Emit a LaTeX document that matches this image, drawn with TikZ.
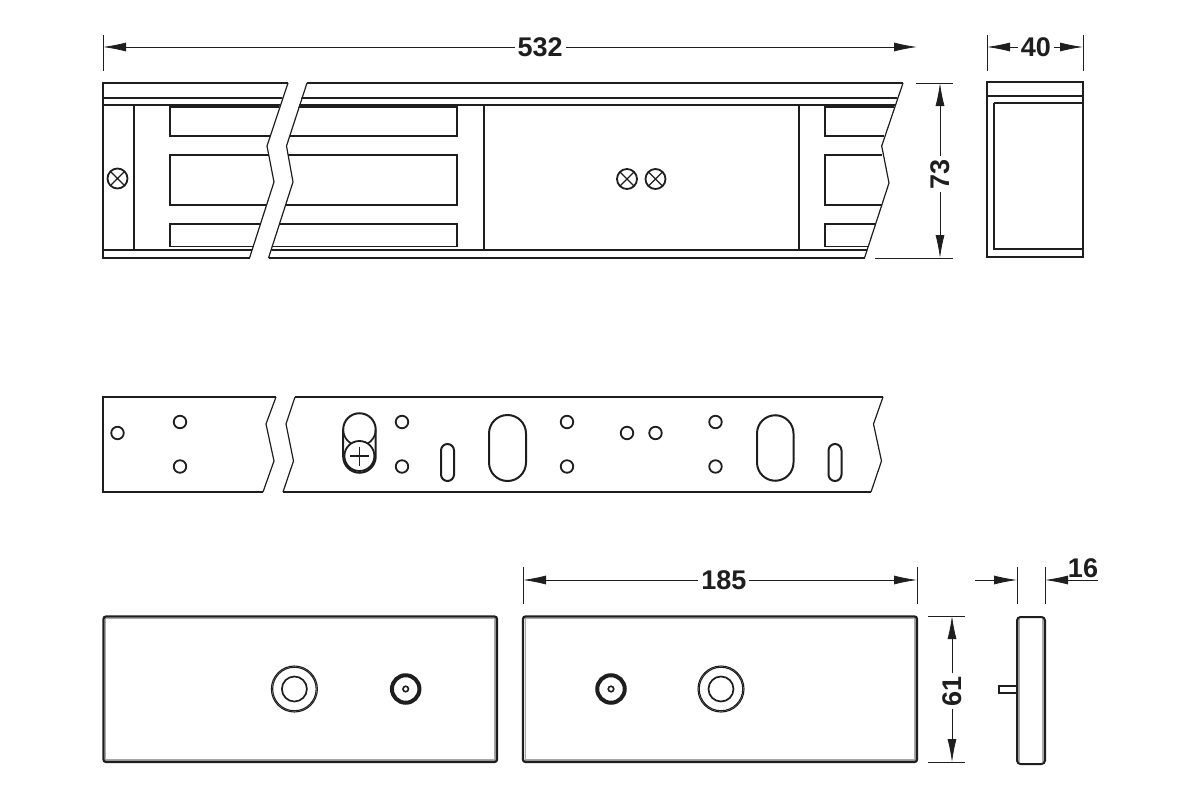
\documentclass[tikz,border=0pt]{standalone}
\usepackage{fontspec}
\setmainfont{Liberation Sans}
\usetikzlibrary{arrows.meta}
\definecolor{ink}{HTML}{1E1E1E}
\definecolor{edge}{HTML}{A8A8A8}
\tikzset{
  x=1pt,y=-1pt,
  ol/.style={draw=ink,line width=2pt,line join=miter},
  olf/.style={draw=ink,line width=1.7pt},
  cutl/.style={draw=ink,line width=1.2pt},
  dimline/.style={draw=ink,line width=0.8pt,{Latex[length=23pt,width=9pt]}-{Latex[length=23pt,width=9pt]}},
  oneway/.style={draw=ink,line width=0.8pt,-{Latex[length=23pt,width=9pt]}},
  ext/.style={draw=ink,line width=0.8pt},
  dimtext/.style={font=\bfseries\fontsize{27}{27}\selectfont,text=ink,inner sep=3pt,fill=white},
  hole/.style={circle,draw=ink,line width=1.8pt,minimum size=12.5pt,inner sep=0pt},
  xscrew/.style={circle,draw=ink,line width=1.8pt,minimum size=20pt,inner sep=0pt,path picture={\draw[ink,line width=1.4pt] (path picture bounding box.south west)--(path picture bounding box.north east) (path picture bounding box.north west)--(path picture bounding box.south east);}},
  plate/.style={draw=ink,line width=2.2pt,rounded corners=2.5pt},
  plateedge/.style={draw=edge,line width=1.1pt},
  ringo/.style={circle,draw=ink,line width=1.1pt,inner sep=0pt},
  ringi/.style={circle,draw=ink,line width=1.7pt,minimum size=25pt,inner sep=0pt},
  bush/.style={circle,draw=ink,line width=4pt,minimum size=27.5pt,inner sep=0pt},
  bore/.style={circle,draw=ink,line width=1.6pt,minimum size=5.5pt,inner sep=0pt},
}
\begin{document}
\begin{tikzpicture}
\useasboundingbox (0,0) rectangle (1200,800);
% --- top view
\draw[olf] (103,98) -- (897,98);
\draw[ol] (103,105) -- (895,105);
\draw[olf] (134,105) -- (134,250);
\draw[olf] (484,105) -- (484,250);
\draw[olf] (799,105) -- (799,250);
\draw[olf] (103,250) -- (867,250);
\draw[line width=3pt,ink] (170,106) -- (457,106);
\draw[line width=3pt,ink] (825,106) -- (894,106);
\draw[olf] (170,106) rectangle (457,136);
\draw[olf] (170,155) rectangle (457,205);
\draw[olf] (170,224) rectangle (457,246.5);
\draw[olf] (885,106) -- (825,106) -- (825,136) -- (884,136);
\draw[olf] (882,155) -- (825,155) -- (825,205) -- (882,205);
\draw[olf] (875,224) -- (825,224) -- (825,246.5) -- (868,246.5);
% outline
\draw[ol] (288,83) -- (103,83) -- (103,258) -- (250,258);
\draw[ol] (307,83) -- (903,83);
\draw[ol] (269,258) -- (865,258);
\draw[cutl] (903,83) -- (881.7,146) -- (889,183) -- (864.5,258);
% break gap
\fill[white] (288,80) -- (267,146) -- (274,182) -- (249,261) -- (268,261) -- (293,182) -- (286.5,146) -- (307,80) -- cycle;
\draw[ol] (103,83) -- (288,83) (307,83) -- (400,83) (103,258) -- (250,258) (269,258) -- (400,258);
\draw[cutl] (288,83) -- (267,146) -- (274,182) -- (249.5,258);
\draw[cutl] (307,83) -- (286.5,146) -- (293,182) -- (268.5,258);
\node[xscrew] (s1) at (117.5,178.5) {};
\node[xscrew] (s2) at (627,179) {};
\node[xscrew] (s3) at (655.5,179) {};
% --- end view
\draw[ol] (987,82) rectangle (1083,256.5);
\draw[olf] (987,96) -- (1083,96);
\draw[olf] (994,103.3) -- (1083,103.3);
\draw[olf] (994,103.3) -- (994,249.3) -- (1083,249.3);
% --- dims top
\coordinate (d1a) at (103,47); \coordinate (d1b) at (917,47);
\draw[ext] (103,35) -- (103,71);
\draw[dimline] (d1a) -- node[dimtext,pos=.537] {532} (d1b);
\coordinate (d2a) at (987,47); \coordinate (d2b) at (1083,47);
\draw[ext] (987,35) -- (987,71);
\draw[ext] (1083,35) -- (1083,71);
\draw[dimline] (d2a) -- node[dimtext,pos=.51] {40} (d2b);
\coordinate (d3a) at (940,83); \coordinate (d3b) at (940,258);
\draw[ext] (916,83) -- (953,83);
\draw[ext] (875,258) -- (953,258);
\draw[dimline] (d3a) -- node[dimtext,rotate=90,pos=.52] {73} (d3b);
% --- strip
\draw[ol] (276,397) -- (103,397) -- (103,492) -- (263,492);
\draw[cutl] (276,397) -- (266,424) -- (274,461) -- (263,492);
\draw[ol] (295,397) -- (883,397);
\draw[ol] (283,492) -- (871,492);
\draw[cutl] (295,397) -- (286,424) -- (293.5,461) -- (283,492);
\draw[cutl] (883,397) -- (873.5,424) -- (881.5,461) -- (871,492);
\foreach \n/\p in {a/{117.5,433},b/{180,422},c/{180,466.5},d/{402,422},e/{402,466.5},f/{567,422},g/{567,466.5},h/{627,433},i/{655.5,433},j/{715.5,422},k/{715.5,466.5}}
  \node[hole] (h\n) at (\p) {};
% keyhole slot
\draw[ol] (343.2,429.5) arc[start angle=180,end angle=360,radius=16.25] -- (375.7,456.5) arc[start angle=0,end angle=180,radius=16.25] -- cycle;
\draw[olf] (343.2,429.5) arc[start angle=180,end angle=0,radius=16.25];
\node[circle,draw=ink,line width=1.8pt,fill=white,minimum size=30pt,inner sep=0pt] (sc) at (359.4,456) {};
\draw[ink,line width=1.4pt] (350,456) -- (369,456) (359.4,446.5) -- (359.4,465.5);
% slots
\draw[ol] (441,450.5) arc[start angle=180,end angle=360,radius=6.5] -- (454,474.5) arc[start angle=0,end angle=180,radius=6.5] -- cycle;
\draw[ol] (828.5,450.5) arc[start angle=180,end angle=360,radius=6.5] -- (841.5,474.5) arc[start angle=0,end angle=180,radius=6.5] -- cycle;
\draw[ol] (489,433.5) arc[start angle=180,end angle=360,radius=18.5] -- (526,462.5) arc[start angle=0,end angle=180,radius=18.5] -- cycle;
\draw[ol] (757,433.5) arc[start angle=180,end angle=360,radius=18.25] -- (793.5,462.5) arc[start angle=0,end angle=180,radius=18.25] -- cycle;
% --- plates
\draw[plateedge] (105,618.4) -- (495.5,618.4) (105,760) -- (495.5,760) (105.3,618) -- (105.3,760) (495,618) -- (495,760);
\draw[plateedge] (525,618.4) -- (915.5,618.4) (525,760) -- (915.5,760) (525.3,618) -- (525.3,760) (915,618) -- (915,760);
\draw[plate] (103.5,616.5) rectangle (497,762);
\draw[plate] (523,616.5) rectangle (917,762);
\node[ringo,minimum size=46pt] (p1) at (294.4,689) {};
\node[ringo,minimum size=43.5pt] at (294.4,689) {};
\node[ringi] at (294.4,689) {};
\node[bush] (p2) at (405.7,689) {};
\node[bore] at (405.7,689) {};
\node[bush] (p3) at (611,689) {};
\node[bore] at (611,689) {};
\node[ringo,minimum size=46pt] (p4) at (721,689) {};
\node[ringo,minimum size=43.5pt] at (721,689) {};
\node[ringi] at (721,689) {};
% side
\draw[plateedge] (1019,618) -- (1019,762) (1043,618) -- (1043,762);
\draw[draw=ink,line width=2pt,rounded corners=3.5pt] (1017,617) rectangle (1045,764);
\draw[olf] (1017,686) -- (999,686) -- (999,693.3) -- (1017,693.3);
% dims bottom
\coordinate (d4a) at (523,580); \coordinate (d4b) at (917,580);
\draw[ext] (523,567) -- (523,604);
\draw[ext] (917,567) -- (917,604);
\draw[dimline] (d4a) -- node[dimtext,pos=.51] {185} (d4b);
\coordinate (d5a) at (952,616); \coordinate (d5b) at (952,762);
\draw[ext] (928,616) -- (965,616);
\draw[ext] (928,762) -- (965,762);
\draw[dimline] (d5a) -- node[dimtext,rotate=90,pos=.515] {61} (d5b);
\coordinate (d6a) at (975,580); \coordinate (d6b) at (1017,580);
\coordinate (d6c) at (1098,580); \coordinate (d6d) at (1045,580);
\draw[ext] (1017,567) -- (1017,604);
\draw[ext] (1045,567) -- (1045,604);
\draw[oneway] (d6a) -- (d6b);
\draw[oneway] (d6c) -- (d6d);
\node[dimtext,fill=none] (t16) at (1083,568) {16};
\end{tikzpicture}
\end{document}
